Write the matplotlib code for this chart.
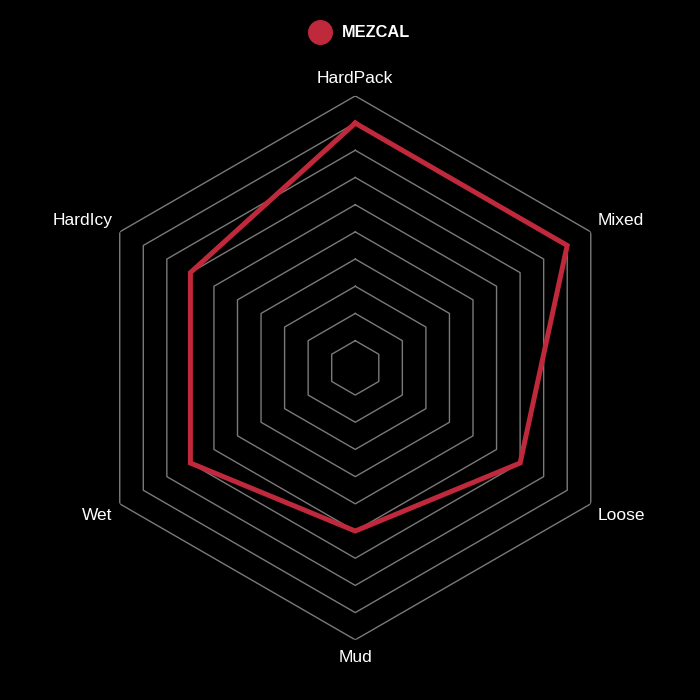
import numpy as np
import matplotlib.pyplot as plt
from matplotlib.lines import Line2D

plt.rcParams['font.family'] = ['Liberation Sans', 'DejaVu Sans']

# Data
categories = ["HardPack", "Mixed", "Loose", "Mud", "Wet", "HardIcy"]
mezcal = [9, 9, 7, 6, 7, 7]
ring_levels = list(range(1, 11))
r_max = 10

line_color = "#c0293b"
grid_color = "#7a7a7a"

n = len(categories)
angles = np.linspace(0, 2 * np.pi, n, endpoint=False)
closed = np.append(angles, angles[0])

fig = plt.figure(figsize=(7, 7), dpi=100, facecolor="black")
ax = fig.add_axes([0.119, 0.086, 0.777, 0.777], projection="polar")
ax.set_facecolor("black")
ax.set_theta_offset(np.pi / 2)
ax.set_theta_direction(-1)
ax.set_ylim(0, r_max)
ax.grid(False)
ax.spines["polar"].set_visible(False)
ax.set_xticks([])
ax.set_yticks([])

# hexagonal grid rings
for lvl in ring_levels:
    ax.plot(closed, [lvl] * (n + 1), color=grid_color, lw=1, zorder=1)

# data polygon
vals = mezcal + mezcal[:1]
ax.plot(closed, vals, color=line_color, lw=3.6, zorder=3, solid_joinstyle="miter")

# axis labels
offsets = {
    "HardPack": (0, 7, "center", "bottom"),
    "Mixed": (5, 3, "left", "bottom"),
    "Loose": (5, -3, "left", "top"),
    "Mud": (0, -7, "center", "top"),
    "Wet": (-5, -3, "right", "top"),
    "HardIcy": (-5, 3, "right", "bottom"),
}
for ang, cat in zip(angles, categories):
    dx, dy, ha, va = offsets[cat]
    ax.annotate(cat, xy=(ang, r_max), xytext=(dx, dy), textcoords="offset points",
                ha=ha, va=va, color="white", fontsize=12.5, annotation_clip=False)

handle = Line2D([], [], marker="o", ls="", color=line_color, markersize=17)
fig.legend(handles=[handle], labels=["MEZCAL"], loc="center",
           bbox_to_anchor=(0.51, 0.953), frameon=False, labelcolor="white",
           prop={"weight": "bold", "size": 11.8}, handletextpad=0.3)

fig.savefig("out.png", facecolor="black")
